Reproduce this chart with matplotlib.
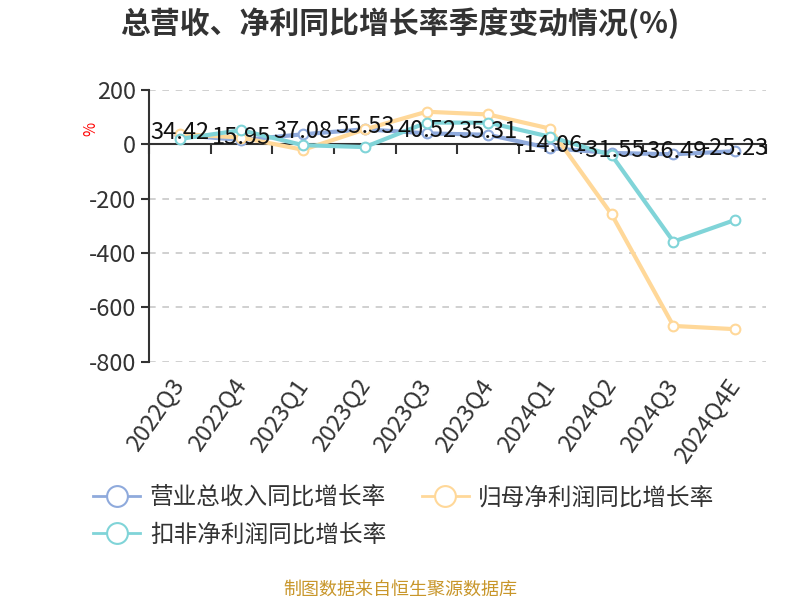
import matplotlib
matplotlib.use("Agg")
import matplotlib.pyplot as plt
from matplotlib.lines import Line2D
import numpy as np

plt.rcParams['font.family'] = ['Noto Sans CJK SC', 'DejaVu Sans']

categories = ["2022Q3", "2022Q4", "2023Q1", "2023Q2", "2023Q3",
              "2023Q4", "2024Q1", "2024Q2", "2024Q3", "2024Q4E"]
revenue = [34.42, 15.95, 37.08, 55.53, 40.52, 35.31, -14.06, -31.55, -36.49, -25.23]
net_profit = [38, 25, -20, 55, 120, 110, 58, -258, -668, -680]
deducted = [20, 52, -3, -10, 80, 80, 28, -40, -358, -278]
series_names = ["营业总收入同比增长率", "归母净利润同比增长率", "扣非净利润同比增长率"]
colors = ["#8FAADC", "#FFD899", "#80D4D8"]
yticks = [200, 0, -200, -400, -600, -800]

fig = plt.figure(figsize=(8, 6), dpi=100)
ax = fig.add_axes([0.186, 0.397, 0.7715, 0.453])
x = np.arange(len(categories))

for vals, c, z in zip([revenue, net_profit, deducted], colors, [3, 4, 5]):
    ax.plot(x, vals, color=c, lw=3, marker='o', ms=7, mfc='white',
            mec=c, mew=1.5, zorder=z, solid_capstyle='round')

for xi, v in zip(x, revenue):
    ax.annotate(f"{v:.2f}", (xi, v), xytext=(0, 2), textcoords='offset points',
                ha='center', va='center', fontsize=17, color='#111111', zorder=10)

ax.set_xlim(-0.5, len(categories) - 0.5)
ax.set_ylim(-800, 200)
ax.set_yticks(yticks)
ax.set_yticklabels([str(t) for t in yticks])
ax.set_xticks(x)
ax.set_xticklabels(categories, rotation=55, ha='right', va='center',
                   rotation_mode='anchor', fontsize=17, color='#333333')
ax.tick_params(axis='x', length=0, pad=14)
ax.tick_params(axis='y', direction='out', length=6, width=1.5, color='#333333',
               labelsize=17, labelcolor='#333333', pad=3)
for s in ['top', 'right', 'bottom']:
    ax.spines[s].set_visible(False)
ax.spines['left'].set_color('#333333')
ax.spines['left'].set_linewidth(1.5)
ax.yaxis.grid(True, linestyle=(0, (4, 4)), color='#C8C8C8', lw=1.2)
ax.set_axisbelow(True)

# category axis line at y = 0 with boundary ticks
ax.axhline(0, color='#333333', lw=1.5, zorder=2)
loc = (0 - (-800)) / (200 - (-800))
sec = ax.secondary_xaxis(loc)
sec.set_xticks(np.arange(-0.5, len(categories), 1.0))
sec.set_xticklabels([])
sec.tick_params(direction='in', length=7, width=1.5, color='#333333')
for s in sec.spines.values():
    s.set_visible(False)

ax.set_ylabel('%', color='red', fontsize=11)
ax.yaxis.set_label_coords(-0.08, 0.855)

fig.text(0.5, 0.962, "总营收、净利同比增长率季度变动情况(%)", ha='center', va='center',
         fontsize=21.5, fontweight='bold', color='#333333')

order = [0, 2, 1]
handles = [Line2D([0], [0], color=colors[i], lw=2, marker='o', ms=15, mfc='white',
                  mec=colors[i], mew=1.5) for i in order]
fig.legend(handles, [series_names[i] for i in order], loc='upper left',
           bbox_to_anchor=(0.09, 0.225), ncol=2, frameon=False, fontsize=17,
           handlelength=2.0, handletextpad=0.4, columnspacing=1.5,
           labelspacing=0.6, labelcolor='#333333')

fig.text(0.5, 0.017, "制图数据来自恒生聚源数据库", ha='center', va='center',
         fontsize=13, color='#C8962A')

fig.savefig("out.png", dpi=100)
